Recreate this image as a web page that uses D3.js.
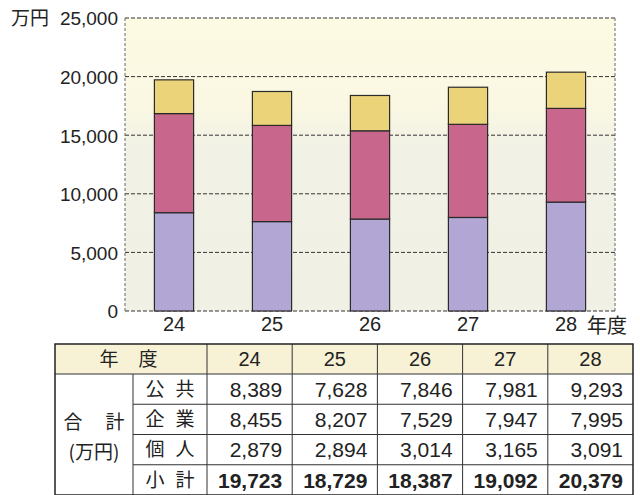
<!DOCTYPE html>
<html><head><meta charset="utf-8">
<script src="https://cdn.jsdelivr.net/npm/d3@7"></script>
<style>
html,body{margin:0;padding:0;background:#fff;}
svg{display:block;}
text{font-family:"Liberation Sans",Arial,sans-serif;fill:#222;}
.jp{font-family:"Noto Sans CJK JP","Noto Sans",sans-serif;}
</style></head>
<body>
<svg id="c" width="640" height="495"></svg>
<script>
const years = ["24","25","26","27","28"];
const publicVals = [8389,7628,7846,7981,9293];
const corpVals = [8455,8207,7529,7947,7995];
const indivVals = [2879,2894,3014,3165,3091];
const subtotals = [19723,18729,18387,19092,20379];
const seriesNames = ["公共","企業","個人"];
const yTicks = [0,5000,10000,15000,20000,25000];
const colors = ["#b2a7d4","#c8668b","#ebd37a"];

const svg = d3.select("#c");
const m = {l:125, t:18, r:615, b:311};
const x = d3.scaleBand().domain(years).range([m.l, m.r]).paddingInner(0.6).paddingOuter(0.3);
const y = d3.scaleLinear().domain([0,25000]).range([m.b, m.t]);

// background gradient
const defs = svg.append("defs");
const g = defs.append("linearGradient").attr("id","bg").attr("x1",0).attr("y1",0).attr("x2",0).attr("y2",1);
g.append("stop").attr("offset","0%").attr("stop-color","#fdfae3");
g.append("stop").attr("offset","30%").attr("stop-color","#faf8e3");
g.append("stop").attr("offset","45%").attr("stop-color","#f1f1e6");
g.append("stop").attr("offset","100%").attr("stop-color","#f1f0e4");
svg.append("rect").attr("x",m.l).attr("y",m.t).attr("width",m.r-m.l).attr("height",m.b-m.t).attr("fill","url(#bg)");

// gridlines
svg.append("g").selectAll("line").data(yTicks).join("line")
  .attr("x1",m.l).attr("x2",m.r).attr("y1",d=>y(d)).attr("y2",d=>y(d))
  .attr("stroke","#333").attr("stroke-width",1).attr("stroke-dasharray","4,2");
[m.l,m.r].forEach(xx=>svg.append("line").attr("x1",xx).attr("x2",xx).attr("y1",m.t).attr("y2",m.b)
  .attr("stroke","#666").attr("stroke-width",1).attr("stroke-dasharray","3,2"));

// stacked bars
const rows = years.map((yr,i)=>({year:yr, "公共":publicVals[i], "企業":corpVals[i], "個人":indivVals[i]}));
const stack = d3.stack().keys(seriesNames)(rows);
svg.append("g").selectAll("g").data(stack).join("g")
  .attr("fill",(d,i)=>colors[i])
  .selectAll("rect").data(d=>d).join("rect")
  .attr("x",d=>x(d.data.year)).attr("width",x.bandwidth())
  .attr("y",d=>y(d[1])).attr("height",d=>y(d[0])-y(d[1]))
  .attr("stroke","#2a2a2a").attr("stroke-width",1.2);

// y axis labels
const ya = svg.append("g").attr("transform",`translate(${m.l},0)`)
  .call(d3.axisLeft(y).tickValues(yTicks).tickSize(0).tickPadding(7).tickFormat(d3.format(",")));
ya.select(".domain").remove();
ya.selectAll("text").attr("font-size",19).attr("font-family","Liberation Sans, Arial, sans-serif").attr("fill","#222").attr("dy","0.36em");
svg.append("text").attr("class","jp").attr("x",11).attr("y",y(25000)+7).attr("font-size",19).text("万円");

// x axis labels
const xa = svg.append("g").attr("transform",`translate(0,${m.b})`)
  .call(d3.axisBottom(x).tickSize(0).tickPadding(6));
xa.select(".domain").remove();
xa.selectAll("text").attr("font-size",20).attr("font-family","Liberation Sans, Arial, sans-serif").attr("fill","#222");
svg.append("text").attr("class","jp").attr("x",587).attr("y",333).attr("font-size",20).text("年度");

// table
const tb = {l:55, c1:133, c2:207, r:633, t:344, h0:30, rh:30.25};
const tx = d3.scaleBand().domain(years).range([tb.c2, tb.r]);
const rowTop = i => tb.t + tb.h0 + i*tb.rh;
const bottom = rowTop(4);
const T = svg.append("g");
T.append("rect").attr("x",tb.l).attr("y",tb.t).attr("width",tb.r-tb.l).attr("height",tb.h0).attr("fill","#f7f1d6");
T.append("rect").attr("x",tb.l).attr("y",tb.t+tb.h0).attr("width",tb.r-tb.l).attr("height",bottom-tb.t-tb.h0).attr("fill","#fff");
const ls = "#333";
T.append("line").attr("x1",tb.l).attr("x2",tb.r).attr("y1",tb.t+tb.h0).attr("y2",tb.t+tb.h0).attr("stroke",ls).attr("stroke-width",1.2);
[1,2,3].forEach(i=>T.append("line").attr("x1",tb.c1).attr("x2",tb.r).attr("y1",rowTop(i)).attr("y2",rowTop(i)).attr("stroke",ls).attr("stroke-width",1));
T.append("line").attr("x1",tb.c1).attr("x2",tb.c1).attr("y1",tb.t+tb.h0).attr("y2",bottom).attr("stroke",ls).attr("stroke-width",1);
years.forEach(yr=>T.append("line").attr("x1",tx(yr)).attr("x2",tx(yr)).attr("y1",tb.t).attr("y2",bottom).attr("stroke",ls).attr("stroke-width",1));
T.append("rect").attr("x",tb.l).attr("y",tb.t).attr("width",tb.r-tb.l).attr("height",bottom-tb.t)
  .attr("fill","none").attr("stroke","#222").attr("stroke-width",1.5);

// header
const hy = tb.t + tb.h0/2;
const hc = (tb.l+tb.c2)/2;
["年","度"].forEach((ch,i)=>T.append("text").attr("class","jp").attr("x",hc+(i?17:-22)).attr("y",hy).attr("dy","0.36em")
  .attr("text-anchor","middle").attr("font-size",19).text(ch));
years.forEach(yr=>T.append("text").attr("x",tx(yr)+tx.bandwidth()/2).attr("y",hy).attr("dy","0.36em")
  .attr("text-anchor","middle").attr("font-size",20).text(yr));

// left merged labels
const c0 = (tb.l+tb.c1)/2;
["合","計"].forEach((ch,i)=>T.append("text").attr("class","jp").attr("x",c0+(i?21:-21)).attr("y",422).attr("dy","0.36em")
  .attr("text-anchor","middle").attr("font-size",19).text(ch));
T.append("text").attr("class","jp").attr("x",c0).attr("y",452).attr("dy","0.36em")
  .attr("text-anchor","middle").attr("font-size",19).text("(万円)");

// row labels and values
const rowNames = seriesNames.concat(["小計"]);
const rowVals = [publicVals, corpVals, indivVals, subtotals];
const c1m = (tb.c1+tb.c2)/2;
rowNames.forEach((nm,i)=>{
  const cy = rowTop(i)+tb.rh/2;
  nm.split("").forEach((ch,j)=>T.append("text").attr("class","jp").attr("x",c1m+(j?15:-15)).attr("y",cy).attr("dy","0.36em")
    .attr("text-anchor","middle").attr("font-size",19).text(ch));
  years.forEach((yr,k)=>T.append("text").attr("x",tx(yr)+tx.bandwidth()-10).attr("y",cy).attr("dy","0.37em")
    .attr("text-anchor","end").attr("font-size",21).attr("font-weight",i===3?"bold":"normal")
    .text(d3.format(",")(rowVals[i][k])));
});
</script>
</body></html>
